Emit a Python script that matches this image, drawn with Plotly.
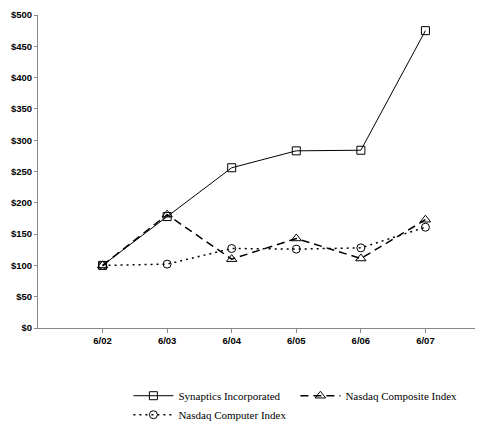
import plotly.graph_objects as go

dates = ["6/02", "6/03", "6/04", "6/05", "6/06", "6/07"]
synaptics = [100, 178, 256, 283, 284, 475]
composite = [100, 181, 110, 143, 111, 173]
computer = [100, 102, 127, 126, 128, 161]

xs = list(range(len(dates)))
fig = go.Figure()
fig.add_scatter(x=xs, y=synaptics, name="Synaptics Incorporated", mode="lines+markers",
                line=dict(color="black", width=1),
                marker=dict(symbol="square-open", size=8, color="black", line=dict(width=1)))
fig.add_scatter(x=xs, y=composite, name="Nasdaq Composite Index", mode="lines+markers",
                line=dict(color="black", width=1.5, dash="8px,5px"),
                marker=dict(symbol="triangle-up-open", size=9, color="black", line=dict(width=1)))
fig.add_scatter(x=xs, y=computer, name="Nasdaq Computer Index", mode="lines+markers",
                line=dict(color="black", width=1.5, dash="2px,4px"),
                marker=dict(symbol="circle-open", size=8, color="black", line=dict(width=1)))

fig.update_layout(
    width=483, height=422, margin=dict(l=30, r=1, t=7, b=100),
    plot_bgcolor="white", paper_bgcolor="white",
    font=dict(family="Liberation Sans", color="black"),
    legend=dict(orientation="h", x=0.2, xanchor="left", y=-0.17, yanchor="top",
                entrywidth=112, entrywidthmode="pixels",
                font=dict(family="Liberation Serif", size=11), itemwidth=40),
)
fig.update_xaxes(range=[-1, 6], tickvals=xs, ticktext=dates, showgrid=False, zeroline=False,
                 automargin=False,
                 showline=True, linecolor="#888", linewidth=1, ticks="outside", ticklen=4,
                 tickcolor="#888", tickfont=dict(size=9.5, family="Liberation Sans", weight="bold"))
fig.update_yaxes(range=[0, 500], dtick=50, tickprefix="$", showgrid=False, zeroline=False,
                 automargin=False,
                 showline=True, linecolor="#888", linewidth=1, ticks="outside", ticklen=3,
                 tickcolor="#888", tickfont=dict(size=9.5, family="Liberation Sans", weight="bold"))
fig.write_html("out.html")
